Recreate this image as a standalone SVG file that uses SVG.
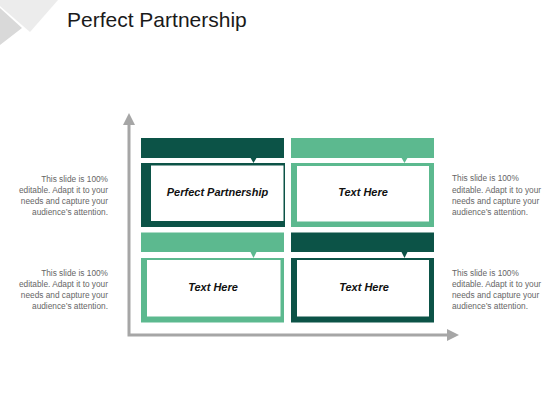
<svg xmlns="http://www.w3.org/2000/svg" width="560" height="420" viewBox="0 0 560 420">
<defs>
<style>
.dark{fill:#0c5347}
.green{fill:#5cb98f}
.inner{fill:#ffffff}
.lbl{font-family:"Liberation Sans",Arial,sans-serif;font-size:11px;font-weight:bold;font-style:italic;fill:#111111;text-anchor:middle}
.side{font-family:"Liberation Sans",Arial,sans-serif;font-size:8.3px;fill:#666666}
.axis{stroke:#a6a6a6;stroke-width:3;fill:none}
</style>
</defs>
<rect width="560" height="420" fill="#ffffff"/>
<polygon points="0,0 58,0 30,32 0,6" fill="#ececec"/>
<polygon points="0,8 22,28 0,45" fill="#d9d9d9"/>
<text x="67" y="27" font-family="'Liberation Sans',Arial,sans-serif" font-size="21" fill="#1a1a1a">Perfect Partnership</text>

<g id="connectors">
<path class="axis" d="M129,124 L129,335 L448,335"/>
<polygon points="129,113 123,125 135,125" fill="#a6a6a6"/>
<polygon points="459,335 447,329 447,341" fill="#a6a6a6"/>
</g>

<g id="node-top-left">
<rect class="dark" x="141" y="138" width="143" height="20"/>
<polygon class="dark" points="250,157 257,157 253.5,163"/>
<rect class="dark" x="141" y="163" width="144" height="64"/>
<rect class="inner" x="151" y="165.5" width="132.5" height="55.5"/>
<text class="lbl" x="217.5" y="196">Perfect Partnership</text>
</g>

<g id="node-top-right">
<rect class="green" x="291" y="138" width="143" height="20"/>
<polygon class="green" points="401,157 408,157 404.5,163"/>
<rect class="green" x="291" y="163" width="143" height="64"/>
<rect class="inner" x="297" y="166" width="132" height="55.5"/>
<text class="lbl" x="363" y="196">Text Here</text>
</g>

<g id="node-bottom-left">
<rect class="green" x="141" y="232.5" width="143" height="19.5"/>
<polygon class="green" points="250,251 257,251 253.5,258"/>
<rect class="green" x="141" y="258" width="143" height="64.5"/>
<rect class="inner" x="147" y="260" width="133.5" height="56.5"/>
<text class="lbl" x="213" y="291">Text Here</text>
</g>

<g id="node-bottom-right">
<rect class="dark" x="291" y="232.5" width="143" height="19.5"/>
<polygon class="dark" points="401,251 408,251 404.5,258"/>
<rect class="dark" x="291" y="258" width="143" height="64.5"/>
<rect class="inner" x="297" y="260" width="132" height="56.5"/>
<text class="lbl" x="364" y="291">Text Here</text>
</g>

<g id="text-left-top">
<text class="side" x="108" y="182" text-anchor="end">This slide is 100%</text>
<text class="side" x="108" y="193" text-anchor="end">editable. Adapt it to your</text>
<text class="side" x="108" y="203.5" text-anchor="end">needs and capture your</text>
<text class="side" x="108" y="214.5" text-anchor="end">audience’s attention.</text>
</g>
<g id="text-left-bottom">
<text class="side" x="108" y="276" text-anchor="end">This slide is 100%</text>
<text class="side" x="108" y="287" text-anchor="end">editable. Adapt it to your</text>
<text class="side" x="108" y="297.5" text-anchor="end">needs and capture your</text>
<text class="side" x="108" y="308.5" text-anchor="end">audience’s attention.</text>
</g>
<g id="text-right-top">
<text class="side" x="452" y="181">This slide is 100%</text>
<text class="side" x="452" y="192.5">editable. Adapt it to your</text>
<text class="side" x="452" y="203.5">needs and capture your</text>
<text class="side" x="452" y="214.5">audience’s attention.</text>
</g>
<g id="text-right-bottom">
<text class="side" x="452" y="276">This slide is 100%</text>
<text class="side" x="452" y="287">editable. Adapt it to your</text>
<text class="side" x="452" y="297.5">needs and capture your</text>
<text class="side" x="452" y="308.5">audience’s attention.</text>
</g>
</svg>
